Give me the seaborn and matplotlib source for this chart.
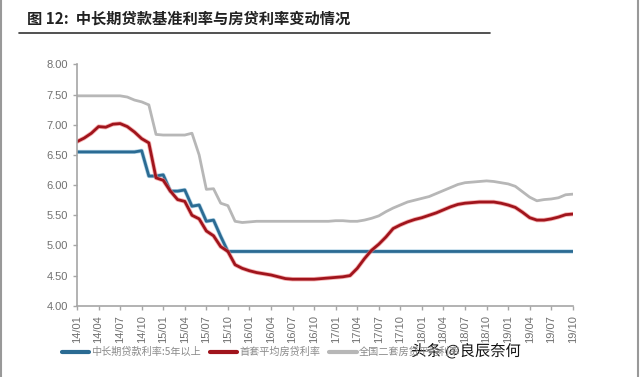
import numpy as np
import pandas as pd
import matplotlib
matplotlib.use("Agg")
import matplotlib.pyplot as plt
import matplotlib.patheffects as pe
from matplotlib.lines import Line2D
import seaborn as sns

# ---------------- data ----------------
tick_labels = ["14/01", "14/04", "14/07", "14/10", "15/01", "15/04", "15/07", "15/10",
               "16/01", "16/04", "16/07", "16/10", "17/01", "17/04", "17/07", "17/10",
               "18/01", "18/04", "18/07", "18/10", "19/01", "19/04", "19/07", "19/10"]

benchmark_5y = [6.55, 6.55, 6.55, 6.55, 6.55, 6.55, 6.55, 6.55, 6.55, 6.57,
                6.15, 6.15, 6.17, 5.90, 5.90, 5.92, 5.65, 5.67, 5.40, 5.42,
                5.15, 4.90] + [4.90] * 48

first_home = [6.72, 6.78, 6.86, 6.97, 6.96, 7.01, 7.02, 6.97, 6.88, 6.77,
              6.70, 6.12, 6.08, 5.90, 5.76, 5.73, 5.50, 5.44, 5.24, 5.16,
              4.98, 4.90, 4.68, 4.62, 4.58, 4.55, 4.53, 4.51, 4.48, 4.45,
              4.44, 4.44, 4.44, 4.44, 4.45, 4.46, 4.47, 4.48, 4.50, 4.62,
              4.78, 4.92, 5.02, 5.14, 5.28, 5.34, 5.39, 5.43, 5.46, 5.50,
              5.54, 5.59, 5.64, 5.68, 5.70, 5.71, 5.72, 5.72, 5.72, 5.70,
              5.67, 5.63, 5.55, 5.46, 5.42, 5.42, 5.44, 5.47, 5.51, 5.52]

second_home = [7.48, 7.48, 7.48, 7.48, 7.48, 7.48, 7.48, 7.46, 7.41, 7.38,
               7.33, 6.84, 6.83, 6.83, 6.83, 6.83, 6.86, 6.50, 5.93, 5.94,
               5.70, 5.66, 5.40, 5.38, 5.39, 5.40, 5.40, 5.40, 5.40, 5.40,
               5.40, 5.40, 5.40, 5.40, 5.40, 5.40, 5.41, 5.41, 5.40, 5.40,
               5.42, 5.45, 5.49, 5.56, 5.62, 5.67, 5.72, 5.75, 5.78, 5.81,
               5.86, 5.91, 5.96, 6.01, 6.04, 6.05, 6.06, 6.07, 6.06, 6.04,
               6.02, 5.98, 5.89, 5.80, 5.74, 5.76, 5.77, 5.79, 5.84, 5.85]

series_names = ["中长期贷款利率:5年以上", "首套平均房贷利率", "全国二套房贷平均利率"]
title_text = "图 12:  中长期贷款基准利率与房贷利率变动情况"
watermark = "头条 @良辰奈何"

# ---------------- style ----------------
sns.set_style("white")
plt.rcParams['font.family'] = ['Noto Sans CJK SC', 'DejaVu Sans']

colors = ["#2b6b93", "#a0141c", "#b7b7b7"]
axis_col = "#a6a6a6"
text_col = "#707070"

months = np.arange(len(first_home))
df = pd.DataFrame({"m": months, "b": benchmark_5y, "f": first_home, "s": second_home})

fig = plt.figure(figsize=(6.4, 3.77), dpi=100)
ax = fig.add_axes([0.1203, 0.189, 0.7747, 0.640])

sns.lineplot(data=df, x="m", y="s", ax=ax, color=colors[2], linewidth=2.0)
sns.lineplot(data=df, x="m", y="b", ax=ax, color=colors[0], linewidth=2.0,
             path_effects=[pe.Stroke(linewidth=3.0, foreground="#7fb6d6", alpha=0.6), pe.Normal()])
sns.lineplot(data=df, x="m", y="f", ax=ax, color=colors[1], linewidth=2.0,
             path_effects=[pe.Stroke(linewidth=3.2, foreground="#f08080", alpha=0.6), pe.Normal()])

ax.set_xlim(0, len(first_home) - 1)
ax.set_ylim(4.0, 8.0)
ax.set_yticks(np.arange(4.0, 8.01, 0.5))
ax.set_yticklabels([f"{v:.2f}" for v in np.arange(4.0, 8.01, 0.5)])
ax.set_xticks(np.arange(0, len(first_home), 3))
ax.set_xticklabels(tick_labels, rotation=90)
ax.set_xlabel("")
ax.set_ylabel("")

for s in ["top", "right"]:
    ax.spines[s].set_visible(False)
for s in ["left", "bottom"]:
    ax.spines[s].set_color(axis_col)
    ax.spines[s].set_linewidth(1.2)
ax.tick_params(axis="both", colors=axis_col, labelcolor=text_col, labelsize=8,
               length=3, width=1, direction="out", left=True, bottom=True)
for lab in ax.get_xticklabels() + ax.get_yticklabels():
    lab.set_family(['Liberation Sans', 'DejaVu Sans'])

# title and rule
fig.text(0.042, 0.952, title_text, fontsize=11, fontweight="bold", color="#222222",
         ha="left", va="center")
fig.add_artist(Line2D([0.03, 0.766], [0.912, 0.912], color="#333333", linewidth=1.2))

# picture border
fig.add_artist(Line2D([0.002, 0.002], [0, 1], color="#999999", linewidth=1.5))
fig.add_artist(Line2D([0.997, 0.997], [0, 1], color="#999999", linewidth=1.5))

# legend
handles = [Line2D([0], [0], color=c, linewidth=3) for c in colors]
leg = fig.legend(handles, series_names, loc="center left", bbox_to_anchor=(0.082, 0.066),
                 ncol=3, frameon=False, fontsize=7.3, handlelength=2.7,
                 handletextpad=0.2, columnspacing=0.9)
for t in leg.get_texts():
    t.set_color("#8a8a8a")

# watermark
fig.text(0.728, 0.068, watermark, fontsize=11, color="#111111", ha="center", va="center",
         path_effects=[pe.withStroke(linewidth=2, foreground="white")])

fig.savefig("out.png", dpi=100)
